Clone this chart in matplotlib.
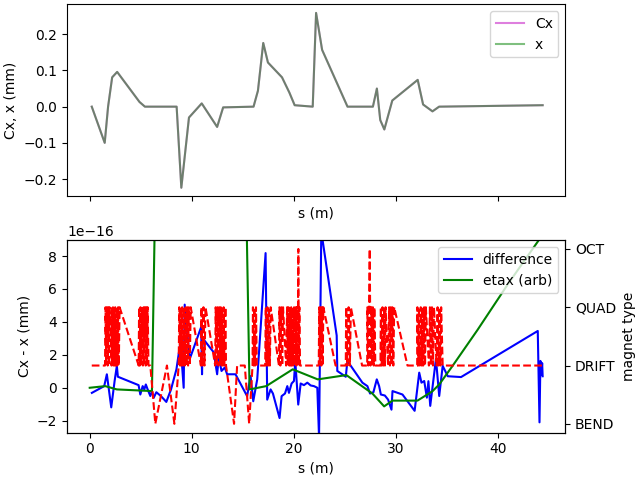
import numpy as np
import matplotlib
matplotlib.use("Agg")
import matplotlib.pyplot as plt

# ---- top panel: orbit ----
s_orbit = [0.2, 1.47, 1.8, 2.2, 2.69, 4.88, 5.41, 8.52, 8.98, 9.73, 10.98, 12.49, 13.08,
           16.06, 16.49, 17.01, 17.47, 18.85, 19.57, 20.09, 21.86, 22.19, 22.78, 25.27,
           27.76, 28.15, 28.48, 28.88, 29.66, 32.15, 32.68, 33.6, 34.25, 44.4]
x_mm = [0.0, -0.1, 0.0, 0.081, 0.096, 0.013, 0.0, 0.0, -0.224, -0.030, 0.009, -0.056, -0.002,
        0.0, 0.044, 0.176, 0.122, 0.081, 0.039, 0.004, 0.0, 0.259, 0.157, 0.0,
        0.0, 0.05, -0.037, -0.063, 0.017, 0.074, 0.006, -0.013, 0.0, 0.004]
cx_mm = list(x_mm)

# ---- bottom panel: difference (units of 1e-16 mm) ----
s_diff = [0.21, 1.42, 1.68, 2.11, 2.44, 2.66, 2.76, 4.79, 4.96, 5.19, 5.35, 5.5, 5.68, 5.94,
          6.1, 6.27, 6.53, 6.99, 7.51, 7.97, 8.5, 8.89, 9.21, 9.31, 9.8, 10.92, 11.01,
          11.08, 12.16, 12.49, 12.65, 12.92, 13.24, 13.47, 14.29, 15.43, 15.77, 16.03,
          16.42, 17.24, 17.4, 17.73, 17.96, 18.61, 18.81, 19.14, 19.37, 19.53, 19.79,
          20.02, 20.15, 20.44, 20.68, 21.0, 21.33, 21.66, 21.98, 22.31, 22.48, 22.7,
          24.21, 24.27, 25.1, 25.26, 26.73, 27.22, 27.48, 27.81, 28.14, 28.37, 28.54,
          28.93, 29.25, 29.58, 29.68, 30.66, 31.85, 32.3, 32.52, 32.79, 33.05, 33.2,
          33.38, 33.94, 34.26, 34.6, 35.1, 36.4, 43.92, 44.09, 44.18, 44.28, 44.35, 44.4]
diff_e16 = [-0.31, 0.1, 0.82, -1.19, 0.41, 1.33, 0.67, 0.16, -0.41, 0.1, -0.1, 0.2, -0.1, -0.5,
            -0.2, -0.61, -0.27, -0.51, -0.86, -0.1, 1.12, 2.76, 0.0, 5.05, 1.74, 3.68, 0.82,
            3.0, 2.15, 0.82, 1.84, 1.02, 1.23, 0.82, 0.82, -0.51, 0.71, -0.82,
            0.51, 8.18, -0.72, -0.1, -0.35, -1.84, -0.51, -0.35, 0.1, -0.31, 0.26,
            0.41, 1.63, -1.02, 0.26, 0.16, 0.31, 0.14, 0.1, 0.0, -3.0, 9.5,
            3.17, 1.02, 0.67, 1.63, 0.31, 0.1, -0.35, -0.27, 0.51, 0.1, -0.41,
            -0.47, -0.72, -1.33, -0.2, -0.41, -1.4, 0.92, 0.31, 0.41, -0.6, 0.4,
            -1.1, 1.75, -0.5, 1.33, 0.7, 0.65, 3.45, -2.1, 1.63, 0.8, 1.5, 0.7]

# ---- etax (arbitrary units, same 1e-16 scale) ----
s_eta = [0.0, 1.52, 2.66, 6.1, 6.43, 8.3, 11.0, 14.15, 15.35, 15.67, 17.3, 19.9, 22.35,
         25.16, 27.71, 28.86, 29.68, 32.13, 33.6, 34.26, 35.57, 38.0, 41.0, 44.4]
etax_e16 = [0.0, 0.1, -0.1, -0.2, 12.0, 40.0, 45.0, 40.0, 11.0, -0.1, 0.1, 1.12, 0.51,
            0.77, -0.35, -1.13, -0.78, -0.78, -0.21, 0.2, 1.33, 3.5, 6.3, 9.3]

# ---- magnet type along s (0=BEND, 1=DRIFT, 2=QUAD, 3=OCT) ----
mag_s = [0.2, 1.5,
         1.55, 1.62, 1.69, 1.76, 1.83, 1.89, 1.95,
         2.14,
         2.18, 2.23, 2.28, 2.33, 2.38,
         2.46,
         2.50, 2.57, 2.64, 2.71, 2.78, 2.85, 2.93,
         4.80,
         4.84, 4.91, 4.98, 5.05, 5.12,
         5.22,
         5.28, 5.35, 5.42, 5.49, 5.56, 5.62, 5.68,
         5.76, 5.94, 6.43, 7.57, 8.30, 8.72,
         8.78, 8.85, 8.92, 8.99, 9.06, 9.13, 9.20,
         9.32,
         9.40, 9.48, 9.56, 9.64, 9.72, 9.81, 9.90,
         10.90,
         10.95, 11.05, 11.15, 11.25, 11.35,
         12.30,
         12.35, 12.44, 12.53, 12.62, 12.70,
         12.78,
         12.85, 12.92, 12.99, 13.06, 13.13, 13.21, 13.30,
         13.36, 14.15, 14.45, 15.20, 15.63, 15.96,
         16.00, 16.07, 16.14, 16.21, 16.30,
         16.38, 17.20,
         17.26, 17.34, 17.42, 17.50, 17.58, 17.66, 17.74,
         18.55,
         18.60, 18.69, 18.78, 18.87, 18.95,
         19.25,
         19.35, 19.42, 19.49, 19.56, 19.63, 19.69, 19.75,
         19.80,
         19.85, 19.94, 20.03, 20.12, 20.20,
         20.26,
         20.30, 20.36, 20.42, 20.45, 20.49, 20.55,
         20.62, 22.45,
         22.50, 22.57, 22.64, 22.71, 22.78, 22.84, 22.90,
         24.10, 25.10,
         25.14, 25.26, 25.38, 25.50, 25.60,
         26.70, 27.20,
         27.22, 27.30, 27.38, 27.45, 27.52, 27.60, 27.68, 27.76, 27.84, 27.90,
         28.00, 28.50,
         28.54, 28.62, 28.70, 28.78, 28.86, 28.94, 29.00,
         29.25,
         29.35, 29.43, 29.51, 29.59, 29.67, 29.76, 29.85,
         31.15, 32.10,
         32.12, 32.20, 32.28, 32.36, 32.45,
         32.55,
         32.60, 32.69, 32.78, 32.87, 32.95,
         33.25,
         33.35, 33.45, 33.55, 33.65, 33.75,
         34.00,
         34.10, 34.19, 34.28, 34.37, 34.45,
         34.60, 44.40]
mag_type = [1, 1,
            2, 1, 2, 1, 2, 1, 2,
            1,
            2, 1, 2, 1, 2,
            1,
            2, 1, 2, 1, 2, 1, 2,
            1,
            2, 1, 2, 1, 2,
            1,
            2, 1, 2, 1, 2, 1, 2,
            1, 1, 0, 1, 0, 1,
            2, 1, 2, 1, 2, 1, 2,
            1,
            2, 1, 2, 1, 2, 1, 2,
            1,
            2, 1, 2, 1, 2,
            1,
            2, 1, 2, 1, 2,
            1,
            2, 1, 2, 1, 2, 1, 2,
            1, 0, 1, 1, 0, 1,
            2, 1, 2, 1, 2,
            1, 1,
            2, 1, 2, 1, 2, 1, 2,
            1,
            2, 1, 2, 1, 2,
            1,
            2, 1, 2, 1, 2, 1, 2,
            1,
            2, 1, 2, 1, 2,
            1,
            2, 1, 2, 3, 1, 2,
            1, 1,
            2, 1, 2, 1, 2, 1, 2,
            1, 1,
            2, 1, 2, 1, 2,
            1, 1,
            2, 1, 2, 3, 1, 2, 1, 2, 1, 2,
            1, 1,
            2, 1, 2, 1, 2, 1, 2,
            1,
            2, 1, 2, 1, 2, 1, 2,
            1, 1,
            2, 1, 2, 1, 2,
            1,
            2, 1, 2, 1, 2,
            1,
            2, 1, 2, 1, 2,
            1,
            2, 1, 2, 1, 2,
            1, 1]
mag_labels = ['BEND', 'DRIFT', 'QUAD', 'OCT']

fig, (ax1, ax2) = plt.subplots(2, 1, sharex=True, figsize=(6.4, 4.8), dpi=100)

ax1.plot(s_orbit, cx_mm, color='m', alpha=0.5, label='Cx')
ax1.plot(s_orbit, x_mm, color='g', alpha=0.5, label='x')
ax1.set_xlabel('s (m)')
ax1.set_ylabel('Cx, x (mm)')
ax1.legend(loc='upper right')
ax1.tick_params(labelbottom=False)

ax2.plot(s_diff, np.array(diff_e16) * 1e-16, color='b', label='difference')
ax2.plot(s_eta, np.array(etax_e16) * 1e-16, color='g', label='etax (arb)')
ax2.set_ylim(-2.72e-16, 8.96e-16)
ax2.set_xlabel('s (m)')
ax2.set_ylabel('Cx - x (mm)')
ax2.legend(loc='upper right')

ax3 = ax2.twinx()
ax3.plot(mag_s, mag_type, 'r--')
ax3.set_yticks(range(len(mag_labels)))
ax3.set_yticklabels(mag_labels)
ax3.set_ylabel('magnet type')

fig.tight_layout(pad=0.3)
fig.savefig('out.png', dpi=100)
